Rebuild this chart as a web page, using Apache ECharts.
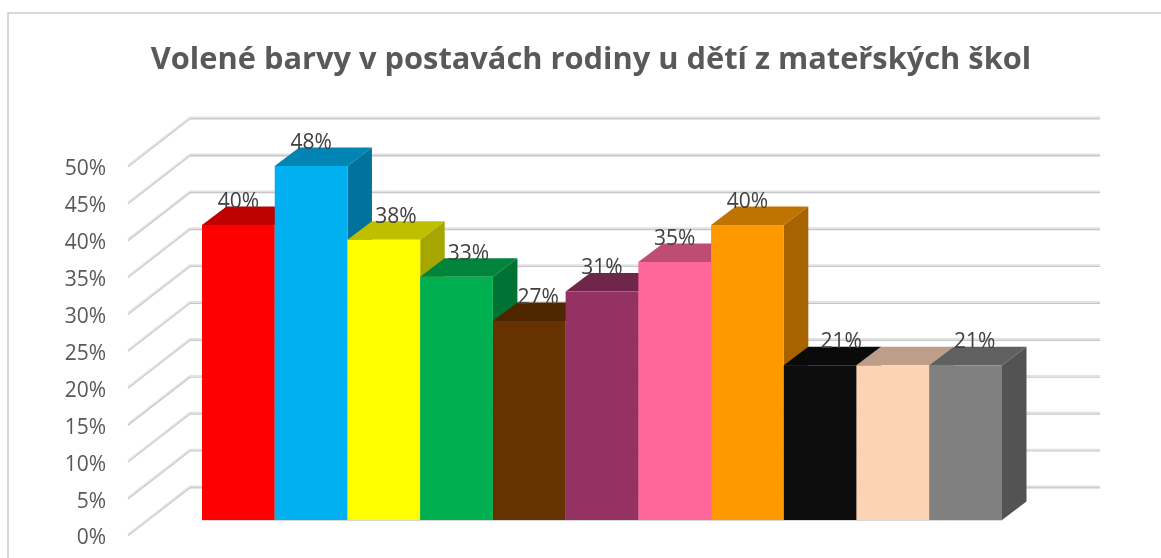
<!DOCTYPE html>
<html><head><meta charset="utf-8">
<style>html,body{margin:0;padding:0;background:#fff}#c{width:1161px;height:558px}</style>
<script src="https://cdn.jsdelivr.net/npm/echarts@6/dist/echarts.min.js"></script>
</head><body><div id="c"></div>
<script>
const titleText = 'Volené barvy v postavách rodiny u dětí z mateřských škol';
const categories = ['červená','modrá','žlutá','zelená','hnědá','fialová','růžová','oranžová','černá','tělová','šedá'];
const values = [40,48,38,33,27,31,35,40,21,21,21];
const barColors = ['#ff0000','#00b0f0','#ffff00','#00b050','#663300','#943264','#ff6699','#ff9900','#0d0d0d','#fdd3b5','#808080'];
const axisTicks = [0,5,10,15,20,25,30,35,40,45,50];
const labelShown = [1,1,1,1,1,1,1,1,1,0,1];
const labelNudge = [0,0,12,12,9,0,0,0,21,0,9];

const DEPTH_X = 24.5, DEPTH_Y = 18.5;      // bar depth
const WALL_X = 62, WALL_Y = 48, WALL_W = 910; // wall depth and width
const shade = (hex, k) => {
  const n = parseInt(hex.slice(1), 16);
  const f = s => Math.round(((n >> s) & 255) * k);
  return `rgb(${f(16)},${f(8)},${f(0)})`;
};

const chart = echarts.init(document.getElementById('c'));
chart.setOption({
  animation: false,
  backgroundColor: '#fff',
  title: {
    text: titleText, left: 586, top: 40, textAlign: 'center',
    textStyle: { fontFamily: 'Open Sans', fontWeight: 'bold', fontSize: 30.8, color: '#595959' }
  },
  graphic: [{
    type: 'polyline', silent: true, z: 0,
    shape: { points: [[8, 558], [8, 13], [1161, 13]] },
    style: { fill: null, stroke: '#d9d9d9', lineWidth: 2 }
  }],
  grid: [
    { left: 128, width: WALL_W, top: 166, height: 369 },
    { left: 202, width: 800, top: 151.25, height: 368.75 }
  ],
  xAxis: [
    { gridIndex: 0, type: 'value', min: 0, max: 1, show: false },
    { gridIndex: 1, type: 'category', data: categories, z: 3,
      axisLine: { show: true, lineStyle: { color: '#d9d9d9', width: 1 } },
      axisTick: { show: false }, axisLabel: { show: false } }
  ],
  yAxis: [
    { gridIndex: 0, type: 'value', min: 0, max: 50, interval: 5,
      axisLine: { show: false }, axisTick: { show: false }, splitLine: { show: false },
      axisLabel: { formatter: '{value}%', margin: 22, fontFamily: 'Open Sans', fontSize: 21, color: '#595959', verticalAlign: 'top', lineHeight: 7 } },
    { gridIndex: 1, type: 'value', min: 0, max: 50, interval: 5, show: false }
  ],
  series: [
    {
      type: 'custom', xAxisIndex: 0, yAxisIndex: 0, z: 1, silent: true,
      data: axisTicks.map(t => [0, t]),
      renderItem(params, api) {
        const p = api.coord([0, api.value(1)]);
        const pts = [p, [p[0] + WALL_X, p[1] - WALL_Y], [p[0] + WALL_X + WALL_W, p[1] - WALL_Y]];
        return { type: 'group', children: [
          { type: 'polyline', shape: { points: pts.map(q => [q[0], q[1] + 0.8]) }, style: { fill: null, stroke: '#c6c6c6', lineWidth: 1.4 } },
          { type: 'polyline', shape: { points: pts.map(q => [q[0], q[1] - 0.6]) }, style: { fill: null, stroke: '#e2e2e2', lineWidth: 1.6 } }
        ] };
      }
    },
    {
      type: 'custom', xAxisIndex: 1, yAxisIndex: 1, z: 2, silent: true,
      encode: { x: 0, y: 1 },
      data: values.map((v, i) => [i, v]),
      renderItem(params, api) {
        const i = api.value(0);
        const c = barColors[i];
        const w = api.size([1, 0])[0];
        const top = api.coord([i, api.value(1)]);
        const bot = api.coord([i, 0]);
        const l = top[0] - w / 2, r = top[0] + w / 2, t = top[1], b = bot[1];
        const dx = DEPTH_X, dy = DEPTH_Y;
        return { type: 'group', children: [
          { type: 'polygon', shape: { points: [[r, b], [r + dx, b - dy], [r + dx, t - dy], [r, t]] }, style: { fill: shade(c, 0.65) } },
          { type: 'polygon', shape: { points: [[l, t], [r, t], [r + dx, t - dy], [l + dx, t - dy]] }, style: { fill: shade(c, 0.75) } },
          { type: 'rect', shape: { x: l, y: t, width: r - l, height: b - t }, style: { fill: c } }
        ] };
      }
    },
    {
      type: 'scatter', xAxisIndex: 1, yAxisIndex: 1, z: 5, symbolSize: 0, silent: true,
      data: values.map((v, i) => ({
        value: [i, v],
        label: { show: !!labelShown[i], position: 'inside', offset: [labelNudge[i], -23],
          formatter: p => p.value[1] + '%', fontFamily: 'Open Sans', fontSize: 21, color: '#404040', opacity: 1 }
      }))
    }
  ]
});
</script></body></html>
